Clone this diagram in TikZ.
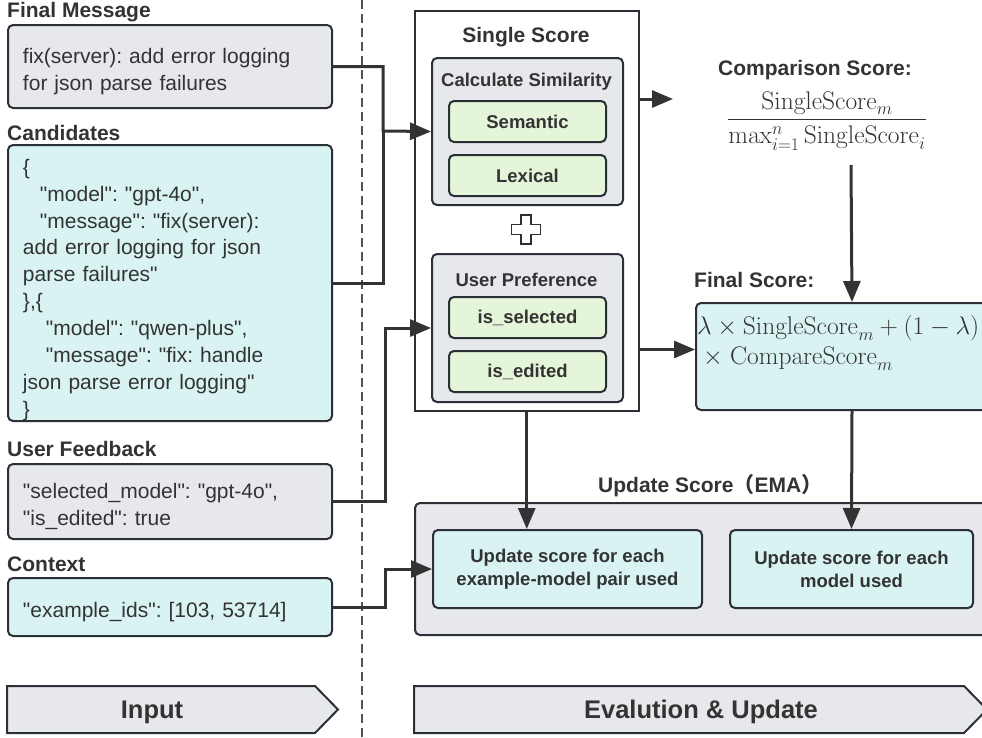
\documentclass[tikz,border=0pt]{standalone}
\usepackage{fix-cm}
\usepackage[no-math]{fontspec}
\setmainfont{Liberation Sans}[Ligatures=TeXOff]
\newfontfamily\cjk{Noto Sans CJK SC}
\usepackage{amsmath}
\usetikzlibrary{arrows.meta}
\definecolor{boxgray}{HTML}{E6E8EB}
\definecolor{boxcyan}{HTML}{D9F3F3}
\definecolor{boxgreen}{HTML}{E4F5DA}
\definecolor{edge}{HTML}{2B2F36}
\definecolor{ink}{HTML}{333333}
\newcommand\topgap[1]{\rule{0pt}{#1}}
\frenchspacing

\begin{document}
\begin{tikzpicture}[x=1pt,y=-1pt]
\tikzstyle{every node}=[text=ink]
\tikzstyle{panel}=[draw=edge, line width=2pt, rounded corners=5pt, anchor=north west, inner sep=0pt]
\tikzstyle{grayp}=[panel, fill=boxgray]
\tikzstyle{cyanp}=[panel, fill=boxcyan]
\tikzstyle{greenp}=[panel, fill=boxgreen, font=\fontsize{18.5}{22}\selectfont\bfseries, minimum width=157pt, minimum height=41pt]
\tikzstyle{datatext}=[align=left, text width=294pt, inner xsep=15pt, font=\fontsize{21}{26.9}\selectfont]
\tikzstyle{caption}=[anchor=base west, inner sep=0pt, font=\fontsize{21}{25}\selectfont\bfseries]
\tikzstyle{title}=[anchor=base, inner sep=0pt, font=\fontsize{21}{25}\selectfont\bfseries]
\tikzstyle{subtitle}=[anchor=base, inner sep=0pt, font=\fontsize{18.5}{22}\selectfont\bfseries]
\tikzstyle{formula}=[inner sep=0pt, font=\fontsize{25.5}{30}\selectfont]
\tikzstyle{banner}=[draw=edge, line width=2pt, fill=boxgray]
\tikzstyle{bannertext}=[anchor=base, inner sep=0pt, font=\fontsize{25.5}{30}\selectfont\bfseries]
\tikzstyle{wire}=[draw=ink, line width=3pt]
\tikzstyle{link}=[wire, -{Triangle[length=21pt,width=17pt]}]
\useasboundingbox (0,0) rectangle (982,737);

% input side
\node[caption] (FinalMessageCap) at (7,17) {Final Message};
\node[grayp, datatext, minimum width=324pt, minimum height=83pt] (FinalMessage) at (7,24)
  {\topgap{26pt}fix(server): add error logging\\for json parse failures};
\node[caption] (CandidatesCap) at (7,140) {Candidates};
\node[cyanp, datatext, minimum width=324pt, minimum height=276pt] (Candidates) at (7,144)
  {\topgap{29pt}\{\\
   \hspace*{17pt}"model": "gpt-4o",\\
   \hspace*{17pt}"message": "fix(server):\\
   add error logging for json\\
   parse failures"\\
   \},\{\\
   \hspace*{23pt}"model": "qwen-plus",\\
   \hspace*{23pt}"message": "fix: handle\\
   json parse error logging"\\
   \}};
\node[caption] (FeedbackCap) at (7,456) {User Feedback};
\node[grayp, datatext, minimum width=324pt, minimum height=75pt] (Feedback) at (7,463)
  {\topgap{26pt}"selected\_model": "gpt-4o",\\"is\_edited": true};
\node[caption] (ContextCap) at (7,571) {Context};
\node[cyanp, datatext, minimum width=324pt, minimum height=58pt] (Context) at (7,577)
  {\topgap{25pt}"example\_ids": [103, 53714]};

\draw[draw=ink!85, line width=1.5pt, dash pattern=on 9pt off 5pt] (362,0) -- (362,737);

% single score
\node[draw=edge, line width=1.5pt, fill=white, anchor=north west, inner sep=0pt,
  minimum width=224pt, minimum height=400pt] (SingleScore) at (414,10) {};
\node[title] (SingleScoreCap) at (526,42) {Single Score};
\node[grayp, minimum width=191pt, minimum height=147pt] (CalcSim) at (431,57) {};
\node[subtitle] (CalcSimCap) at (526.5,86) {Calculate Similarity};
\node[greenp] (Semantic) at (448,100) {Semantic};
\node[greenp] (Lexical) at (448,154) {Lexical};
\draw[draw=edge, line width=1.5pt, fill=white] (521,215) -- (531,215) -- (531,224.5) -- (540.5,224.5)
  -- (540.5,234.5) -- (531,234.5) -- (531,244) -- (521,244) -- (521,234.5) -- (511.5,234.5)
  -- (511.5,224.5) -- (521,224.5) -- cycle;
\node[grayp, minimum width=191pt, minimum height=148pt] (UserPref) at (431,253) {};
\node[subtitle] (UserPrefCap) at (526.5,286) {User Preference};
\node[greenp] (IsSelected) at (448,296) {is\_selected};
\node[greenp] (IsEdited) at (448,350) {is\_edited};

% scores
\node[title] (CompareCap) at (815,75) {Comparison Score:};
\node[formula] (Compare) at (827,121)
  {$\dfrac{\mathrm{SingleScore}_m}{\max\nolimits_{i=1}^{n}\mathrm{SingleScore}_i}$};
\node[caption] (FinalCap) at (694,287) {Final Score:};
\node[cyanp, minimum width=312pt, minimum height=107pt] (FinalBox) at (695,302) {};
\node[formula, anchor=north west, align=left] (FinalFormula) at (697,315)
  {$\lambda\times\mathrm{SingleScore}_m+(1-\lambda)$\\\hspace*{6pt}$\times$ $\mathrm{CompareScore}_m$};

% update
\node[caption] (UpdateCap) at (598,492) {Update Score{\cjk （}EMA{\cjk ）}};
\node[grayp, minimum width=590pt, minimum height=132pt] (UpdateArea) at (414,502) {};
\node[cyanp, align=center, font=\fontsize{18.5}{23}\selectfont\bfseries,
  minimum width=269pt, minimum height=78pt] (PairBox) at (432,529)
  {Update score for each\\example-model pair used};
\node[cyanp, align=center, font=\fontsize{18.5}{23}\selectfont\bfseries,
  minimum width=243pt, minimum height=78pt] (ModelBox) at (729,529)
  {Update score for each\\model used};

% banners
\draw[banner] (7,686) -- (315,686) -- (338,709.5) -- (315,733) -- (7,733) -- cycle;
\node[bannertext] (InputTag) at (152,718) {Input};
\draw[banner] (414,686) -- (964,686) -- (987,709.5) -- (964,733) -- (414,733) -- cycle;
\node[bannertext] (EvalTag) at (701,718) {Evalution \& Update};

% connectors
\coordinate (JoinIn) at (383,131);
\coordinate (ToCompare) at (673,99);
\coordinate (CompareOut) at (851,165);
\coordinate (FinalIn) at ([yshift=7pt]FinalBox.west);
\draw[link] (FinalMessage.east) -| (JoinIn) -- (CalcSim.west);
\draw[wire] (Candidates.east) -| (JoinIn);
\draw[link] (Feedback.east) -- ++(52,0) |- (UserPref.west);
\draw[link] (Context.east) -- ++(52,0) |- (PairBox.west);
\draw[link] (SingleScore.east |- ToCompare) -- (ToCompare);
\draw[link] (SingleScore.east |- FinalIn) -- (FinalIn);
\draw[link] (CompareOut) -- (FinalBox.north);
\draw[link] (SingleScore.south) -- (SingleScore.south |- PairBox.north);
\draw[link] (FinalBox.south) -- (ModelBox.north);
\end{tikzpicture}
\end{document}
